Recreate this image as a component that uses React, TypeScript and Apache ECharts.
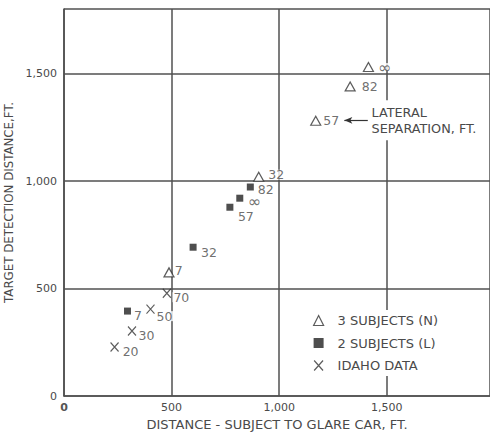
import React, { useEffect, useRef } from "react";
import * as echarts from "echarts";

// [distance subject-to-glare-car (ft), target detection distance (ft), lateral separation (ft)]
const threeSubjects: [number, number, string][] = [
  [1415, 1530, "∞"],
  [1330, 1440, "82"],
  [1170, 1280, "57"],
  [905, 1020, "32"],
  [488, 575, "7"],
];
const twoSubjects: [number, number, string][] = [
  [866, 972, "82"],
  [817, 920, "∞"],
  [771, 878, "57"],
  [600, 692, "32"],
  [295, 395, "7"],
];
const idahoData: [number, number, string][] = [
  [478, 478, "70"],
  [402, 404, "50"],
  [316, 302, "30"],
  [235, 228, "20"],
];

const seriesNames = ["3 SUBJECTS (N)", "2 SUBJECTS (L)", "IDAHO DATA"];
const xAxisTitle = "DISTANCE - SUBJECT TO GLARE CAR, FT.";
const yAxisTitle = "TARGET DETECTION DISTANCE,FT.";
const noteLines = ["LATERAL", "SEPARATION, FT."];
// arrow from the note back to the 57 ft point: [x start, x end, y]
const noteArrow = [1412, 1303, 1282];
const noteAnchor = [1420, 1282];

// label placement next to each marker: [gap from marker edge, dy]
const threeLabelPos = [[3, 0], [5, 0], [1, 0], [3, -2], [-1, -2]];
const twoLabelPos = [[3, 2], [3.5, 3], [3.5, 9], [3.5, 5], [2, 4]];
const idahoLabelPos = [[1, 4], [0.5, 7], [1, 4], [2.5, 5]];

const FONT = "DejaVu Sans";
const INK = "#333";
const TEXT = "#4a4a4a";
const GRID = "#505050";

const xSymbol = "path://M0,0L8,9M8,0L0,9";

function pointData(rows: [number, number, string][], pos: number[][]) {
  return rows.map((r, i) => ({
    value: r,
    label: { offset: [pos[i][0], pos[i][1]] },
  }));
}

const labelBase = {
  show: true,
  position: "right" as const,
  distance: 0,
  formatter: (p: any) => (p.value[2] === "∞" ? "{inf|∞}" : p.value[2]),
  fontFamily: FONT,
  fontSize: 12.5,
  lineHeight: 10,
  color: TEXT,
  backgroundColor: "#fff",
  padding: [0, 1, 0, 1],
  rich: { inf: { fontFamily: FONT, fontSize: 16, lineHeight: 8, color: TEXT } },
};

function fmt(v: number) {
  if (v % 500 !== 0) return "";
  return v.toLocaleString("en-US");
}

export default function App() {
  const ref = useRef<HTMLDivElement>(null);

  useEffect(() => {
    if (!ref.current) return;
    const chart = echarts.init(ref.current, null, { renderer: "svg" });

    chart.setOption({
      animation: false,
      backgroundColor: "#fff",
      grid: {
        left: 64,
        top: 9,
        right: 0,
        bottom: 36,
        show: false,
        containLabel: false,
        outerBoundsMode: "none",
      },
      xAxis: {
        type: "value",
        min: 0,
        max: 1980,
        interval: 500,
        name: xAxisTitle,
        nameLocation: "middle",
        nameGap: 21,
        nameTextStyle: { fontFamily: FONT, fontSize: 13, color: TEXT },
        axisLine: { show: true, lineStyle: { color: GRID, width: 1.6 } },
        axisTick: { show: false },
        splitLine: { show: true, lineStyle: { color: GRID, width: 1.5 } },
        axisLabel: {
          showMaxLabel: false,
          margin: 6,
          fontFamily: FONT,
          fontSize: 11,
          color: TEXT,
          formatter: (v: number) => (v === 0 ? "{z|0}" : fmt(v)),
          rich: { z: { fontFamily: FONT, fontSize: 11, fontWeight: "bold", color: "#555" } },
        },
      },
      yAxis: {
        type: "value",
        min: 0,
        max: 1800,
        interval: 500,
        name: yAxisTitle,
        nameLocation: "middle",
        nameGap: 44,
        nameTextStyle: { fontFamily: FONT, fontSize: 11.8, color: TEXT },
        axisLine: { show: true, lineStyle: { color: GRID, width: 1.6 } },
        axisTick: { show: false },
        splitLine: { show: true, lineStyle: { color: GRID, width: 1.5 } },
        axisLabel: {
          showMaxLabel: false,
          margin: 7,
          fontFamily: FONT,
          fontSize: 11,
          color: TEXT,
          formatter: fmt,
        },
      },
      legend: {
        orient: "vertical",
        left: 309,
        top: 310,
        itemWidth: 10,
        itemHeight: 10,
        itemGap: 9.5,
        backgroundColor: "#fff",
        padding: [4, 6, 4, 4],
        textStyle: {
          fontFamily: FONT,
          fontSize: 13,
          lineHeight: 12,
          color: TEXT,
          padding: [0, 0, 0, 9],
        },
        data: [
          { name: seriesNames[0], icon: "triangle", itemStyle: { color: "#fff", borderColor: INK, borderWidth: 1.2 } },
          { name: seriesNames[1], icon: "rect", itemStyle: { color: "#222" } },
          { name: seriesNames[2], icon: xSymbol, itemStyle: { color: "transparent", borderColor: INK, borderWidth: 1.2 } },
        ],
      },
      series: [
        {
          name: seriesNames[0],
          type: "scatter",
          symbol: "triangle",
          symbolSize: [10, 9],
          itemStyle: { color: "#fff", borderColor: INK, borderWidth: 1.2 },
          label: labelBase,
          data: pointData(threeSubjects, threeLabelPos),
          markLine: {
            silent: true,
            symbol: ["none", "arrow"],
            symbolSize: [5, 8],
            label: { show: false },
            lineStyle: { color: INK, width: 1.2, type: "solid" },
            data: [[{ coord: [noteArrow[0], noteArrow[2]] }, { coord: [noteArrow[1], noteArrow[2]] }]],
          },
          z: 3,
        },
        {
          name: seriesNames[1],
          type: "scatter",
          symbol: "rect",
          symbolSize: 7,
          itemStyle: { color: "#222" },
          label: labelBase,
          data: pointData(twoSubjects, twoLabelPos),
          z: 3,
        },
        {
          name: seriesNames[2],
          type: "scatter",
          symbol: xSymbol,
          symbolSize: [8, 9],
          itemStyle: { color: "transparent", borderColor: INK, borderWidth: 1.2 },
          label: labelBase,
          data: pointData(idahoData, idahoLabelPos),
          z: 3,
        },
      ],
    });

    const [nx, ny] = chart.convertToPixel({ gridIndex: 0 }, noteAnchor) as number[];
    chart.setOption({
      graphic: [
        {
          type: "text",
          x: nx,
          y: ny,
          z: 10,
          style: {
            text: noteLines.join("\n"),
            fontFamily: FONT,
            fontSize: 12.8,
            lineHeight: 16,
            fill: TEXT,
            align: "left",
            verticalAlign: "middle",
            backgroundColor: "#fff",
            padding: [4, 2, 4, 2],
          },
        },
      ],
    });

    return () => chart.dispose();
  }, []);

  return (
    <div
      ref={ref}
      style={{ position: "fixed", left: 0, top: 0, width: 490, height: 432, background: "#fff" }}
    />
  );
}
